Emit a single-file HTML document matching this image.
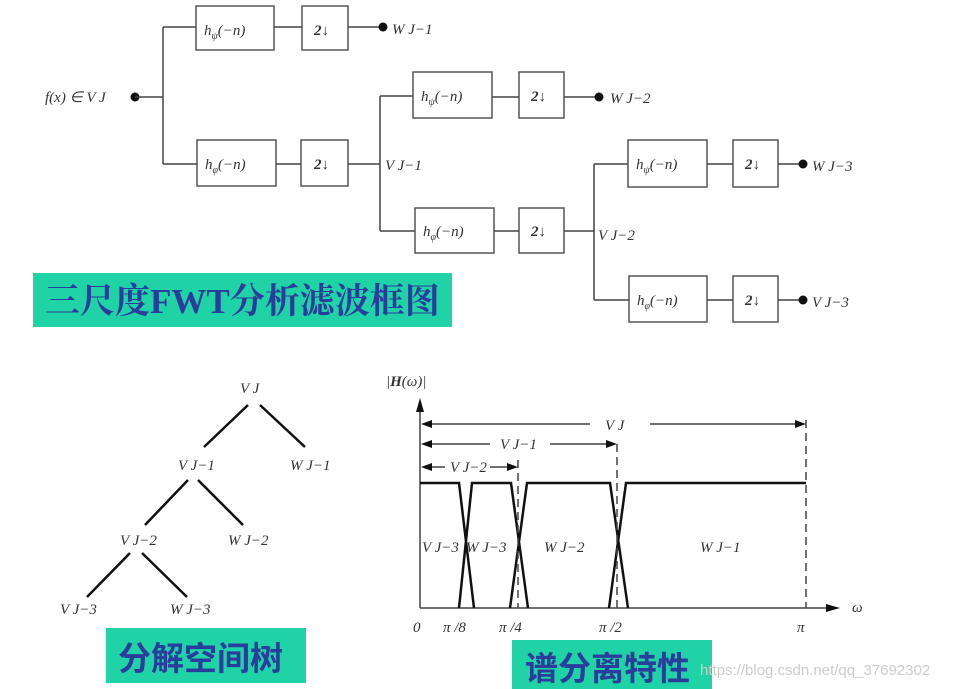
<!DOCTYPE html>
<html><head><meta charset="utf-8"><style>
body{margin:0;background:#fff;}
svg{display:block}
.t{font-family:"Liberation Serif",serif;font-style:italic;font-size:15px;fill:#333}
.b{fill:#fff;stroke:#555;stroke-width:1.5}
.l{stroke:#444;stroke-width:1.5;fill:none}
.k{stroke:#111;stroke-width:2.5;fill:none}
.cn{font-family:"Liberation Serif","Noto Serif CJK SC",serif;font-weight:bold;fill:#2b3d9c}
</style></head><body>
<svg width="953" height="689" viewBox="0 0 953 689" xmlns="http://www.w3.org/2000/svg">
<!-- top filter bank -->
<text class="t" x="45" y="102">f(x) ∈ V J</text>
<circle cx="135" cy="97" r="4.5" fill="#111"/>
<path class="l" d="M135 97H163M163 27V164M163 27H196M163 164H197"/>
<g>
<rect class="b" x="196" y="6" width="78" height="44"/><text class="t" x="204" y="35">h<tspan font-size="10" dy="4">ψ</tspan><tspan dy="-4">(−n)</tspan></text>
<rect class="b" x="302" y="6" width="46" height="44"/><text class="t" x="314" y="35" font-style="normal" font-weight="bold">2↓</text>
<path class="l" d="M274 27H302M348 27H383"/><circle cx="383" cy="27" r="4.5" fill="#111"/>
<text class="t" x="392" y="34">W J−1</text>

<rect class="b" x="197" y="140" width="79" height="46"/><text class="t" x="205" y="169">h<tspan font-size="10" dy="4">φ</tspan><tspan dy="-4">(−n)</tspan></text>
<rect class="b" x="301" y="140" width="47" height="46"/><text class="t" x="314" y="169" font-style="normal" font-weight="bold">2↓</text>
<path class="l" d="M276 164H301M348 164H380M380 96V231M380 96H413M380 231H415"/>
<text class="t" x="385" y="170">V J−1</text>

<rect class="b" x="413" y="72" width="79" height="46"/><text class="t" x="421" y="101">h<tspan font-size="10" dy="4">ψ</tspan><tspan dy="-4">(−n)</tspan></text>
<rect class="b" x="519" y="72" width="45" height="46"/><text class="t" x="531" y="101" font-style="normal" font-weight="bold">2↓</text>
<path class="l" d="M492 97H519M564 97H599"/><circle cx="599" cy="97" r="4.5" fill="#111"/>
<text class="t" x="610" y="103">W J−2</text>

<rect class="b" x="415" y="208" width="79" height="45"/><text class="t" x="423" y="236">h<tspan font-size="10" dy="4">φ</tspan><tspan dy="-4">(−n)</tspan></text>
<rect class="b" x="519" y="208" width="45" height="45"/><text class="t" x="531" y="236" font-style="normal" font-weight="bold">2↓</text>
<path class="l" d="M494 231H519M564 231H594M594 164V300M594 164H628M594 300H629"/>
<text class="t" x="598" y="240">V J−2</text>

<rect class="b" x="628" y="140" width="79" height="47"/><text class="t" x="636" y="169">h<tspan font-size="10" dy="4">ψ</tspan><tspan dy="-4">(−n)</tspan></text>
<rect class="b" x="733" y="140" width="45" height="47"/><text class="t" x="745" y="169" font-style="normal" font-weight="bold">2↓</text>
<path class="l" d="M707 164H733M778 164H803"/><circle cx="803" cy="164" r="4.5" fill="#111"/>
<text class="t" x="812" y="171">W J−3</text>

<rect class="b" x="629" y="276" width="78" height="46"/><text class="t" x="637" y="305">h<tspan font-size="10" dy="4">φ</tspan><tspan dy="-4">(−n)</tspan></text>
<rect class="b" x="733" y="276" width="45" height="46"/><text class="t" x="745" y="305" font-style="normal" font-weight="bold">2↓</text>
<path class="l" d="M707 300H733M778 300H803"/><circle cx="803" cy="300" r="4.5" fill="#111"/>
<text class="t" x="812" y="307">V J−3</text>
</g>
<rect x="33" y="273" width="419" height="54" fill="#1fd3a6"/>
<text class="cn" x="45" y="313" font-size="35">三尺度FWT分析滤波框图</text>

<!-- tree -->
<g class="k">
<path d="M248 405L204 447M260 405L305 447M188 480L145 525M198 480L243 525M130 553L87 597M142 553L187 597"/>
</g>
<text class="t" x="240" y="393">V J</text>
<text class="t" x="178" y="470">V J−1</text>
<text class="t" x="290" y="470">W J−1</text>
<text class="t" x="120" y="545">V J−2</text>
<text class="t" x="228" y="545">W J−2</text>
<text class="t" x="60" y="614">V J−3</text>
<text class="t" x="170" y="614">W J−3</text>
<rect x="106" y="628" width="200" height="55" fill="#1fd3a6"/>
<text class="cn" x="118" y="670" font-size="33" font-weight="normal" style="font-family:'Noto Sans CJK SC',sans-serif">分解空间树</text>

<!-- spectrum -->
<text class="t" x="386" y="386" font-style="normal">|<tspan font-style="italic" font-weight="bold">H</tspan>(ω)|</text>
<path class="l" d="M420 608V402M420 608H830" stroke-width="2"/>
<polygon points="420,398 416,412 424,412" fill="#111"/>
<polygon points="840,608 826,604 826,612" fill="#111"/>
<text class="t" x="852" y="612" font-size="11">ω</text>
<path class="k" d="M420 483H459L474 608M459 608L472 483H511L528 608M510 608L527 483H610L628 608M609 608L626 483H806"/>
<path class="l" stroke-dasharray="8,5" d="M617 444V608M806 420V608M518 460V608"/>
<!-- arrows -->
<path class="l" d="M425 424H590M650 424H800M425 444H490M550 444H612M425 467H445M490 467H513"/>
<polygon points="421,424 432,420 432,428" fill="#111"/><polygon points="806,424 795,420 795,428" fill="#111"/>
<polygon points="421,444 432,440 432,448" fill="#111"/><polygon points="617,444 606,440 606,448" fill="#111"/>
<polygon points="421,467 432,463 432,471" fill="#111"/><polygon points="518,467 507,463 507,471" fill="#111"/>
<text class="t" x="605" y="430" font-size="16">V J</text>
<text class="t" x="500" y="449">V J−1</text>
<text class="t" x="450" y="472">V J−2</text>
<text class="t" x="422" y="552">V J−3</text>
<text class="t" x="466" y="552">W J−3</text>
<text class="t" x="544" y="552">W J−2</text>
<text class="t" x="700" y="552">W J−1</text>
<text class="t" x="413" y="632" font-style="normal" font-size="17">0</text>
<text class="t" x="443" y="632" font-size="17">π /8</text>
<text class="t" x="499" y="632" font-size="17">π /4</text>
<text class="t" x="599" y="632" font-size="17">π /2</text>
<text class="t" x="797" y="632" font-size="17">π</text>
<rect x="512" y="640" width="200" height="49" fill="#1fd3a6"/>
<text class="cn" x="525" y="680" font-size="33" font-weight="normal" style="font-family:'Noto Sans CJK SC',sans-serif">谱分离特性</text>
<text x="700" y="675" font-family="Liberation Sans,sans-serif" font-size="15" fill="#ccc">https://blog.csdn.net/qq_37692302</text>
</svg>
</body></html>
